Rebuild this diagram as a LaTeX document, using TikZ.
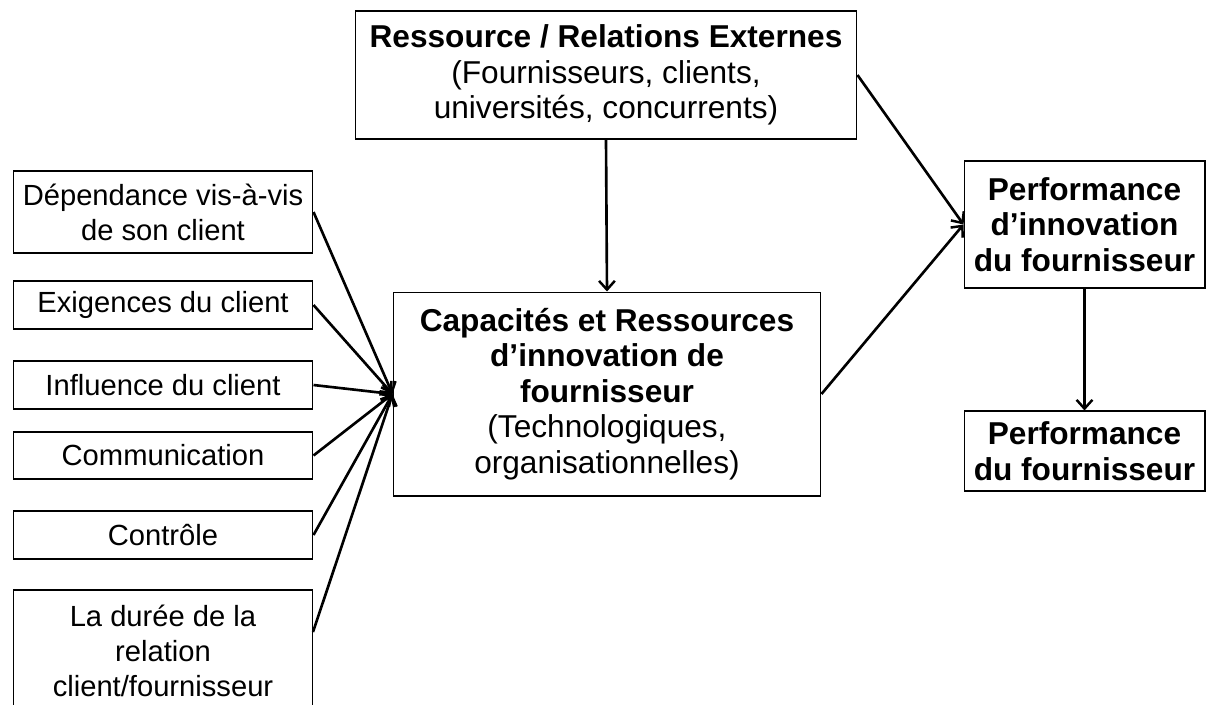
\documentclass[tikz,border=0pt]{standalone}
\usepackage{fontspec}
\setmainfont{Liberation Sans}
\usetikzlibrary{arrows.meta}

\tikzset{
  boite/.style={draw, line width=0.6pt, align=center, inner sep=0pt,
    font=\fontsize{18}{20.2}\selectfont},
  facteur/.style={boite, minimum width=6cm,
    font=\fontsize{16.6}{20}\selectfont},
  fleche/.style={line width=1.5pt, -{Straight Barb[length=5pt,width=9pt,line width=1.4pt]}}
}

\begin{document}
\begin{tikzpicture}[x=0.02cm, y=-0.02cm]
  \useasboundingbox (0,0) rectangle (1208,704);
  \clip (0,0) rectangle (1208,704);
  % Ressources externes
  \node[boite, minimum width=10.04cm, minimum height=2.56cm] (ext) at (606,75)
    {\textbf{Ressource / Relations Externes}\\(Fournisseurs, clients,\\universités, concurrents)};
  % Facteurs relationnels
  \node[facteur, minimum height=1.64cm] (dep) at (163,212) {Dépendance vis-à-vis\\de son client};
  \node[facteur, minimum height=0.96cm] (exi) at (163,305) {Exigences du client};
  \node[facteur, minimum height=0.96cm] (inf) at (163,385) {Influence du client};
  \node[facteur, minimum height=0.94cm] (com) at (163,455.5) {Communication};
  \node[facteur, minimum height=0.96cm] (ctl) at (163,535) {Contrôle};
  \node[facteur, minimum height=2.44cm] (dur) at (163,651) {La durée de la\\relation\\client/fournisseur};
  \coordinate (durout) at (313,632);
  % Capacites
  \node[boite, minimum width=8.56cm, minimum height=4.08cm] (cap) at (607,394)
    {\textbf{Capacités et Ressources}\\\textbf{d’innovation de}\\\textbf{fournisseur}\\(Technologiques,\\organisationnelles)};
  % Performances
  \node[boite, minimum width=4.82cm, minimum height=2.54cm] (pinno) at (1084.5,224.5)
    {\textbf{Performance}\\\textbf{d’innovation}\\\textbf{du fournisseur}};
  \node[boite, minimum width=4.82cm, minimum height=1.6cm] (perf) at (1084.5,451)
    {\textbf{Performance}\\\textbf{du fournisseur}};
  % Fleches
  \foreach \src in {dep,exi,inf,com,ctl,durout}
    \draw[fleche] (\src.east) -- (cap.west);
  \draw[fleche] (ext.south) -- (cap.north);
  \draw[fleche] (ext.east) -- (pinno.west);
  \draw[fleche] (cap.east) -- (pinno.west);
  \draw[fleche] (pinno.south) -- (perf.north);
\end{tikzpicture}
\end{document}
